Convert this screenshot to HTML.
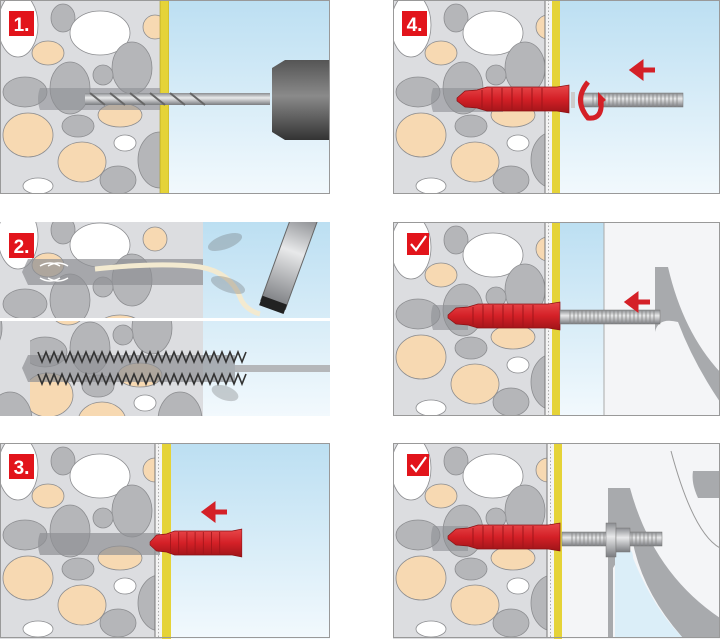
<!DOCTYPE html>
<html><head><meta charset="utf-8"><style>html,body{margin:0;padding:0;background:#fff;width:720px;height:639px;overflow:hidden}svg{display:block}</style></head><body>
<svg width="720" height="639" viewBox="0 0 720 639" xmlns="http://www.w3.org/2000/svg">
<defs>
<linearGradient id="sky" x1="0" y1="0" x2="0" y2="1"><stop offset="0" stop-color="#bcdff2"/><stop offset="1" stop-color="#f2f9fd"/></linearGradient>
<linearGradient id="metal" x1="0" y1="0" x2="0" y2="1"><stop offset="0" stop-color="#8a8c90"/><stop offset=".4" stop-color="#e8e9ea"/><stop offset="1" stop-color="#7a7c80"/></linearGradient>
<linearGradient id="red" x1="0" y1="0" x2="0" y2="1"><stop offset="0" stop-color="#e8484a"/><stop offset=".5" stop-color="#d42027"/><stop offset="1" stop-color="#9e1418"/></linearGradient>
<linearGradient id="chuck" x1="0" y1="0" x2="0" y2="1"><stop offset="0" stop-color="#555"/><stop offset=".45" stop-color="#8a8a8a"/><stop offset="1" stop-color="#333"/></linearGradient>
<g id="stones" stroke="#8c8d90" stroke-width="0.8">
<rect x="0" y="0" width="180" height="200" fill="#dcdde0" stroke="none"/>
<ellipse cx="18" cy="25" rx="20" ry="32" fill="#fff"/>
<ellipse cx="63" cy="18" rx="12" ry="14" fill="#b5b6b9"/>
<ellipse cx="100" cy="33" rx="30" ry="22" fill="#fff"/>
<ellipse cx="155" cy="27" rx="12" ry="12" fill="#f7d9b2"/>
<ellipse cx="48" cy="53" rx="16" ry="12" fill="#f7d9b2"/>
<ellipse cx="132" cy="68" rx="20" ry="26" fill="#b5b6b9"/>
<ellipse cx="70" cy="88" rx="20" ry="26" fill="#b5b6b9"/>
<ellipse cx="103" cy="75" rx="10" ry="10" fill="#b5b6b9"/>
<ellipse cx="25" cy="92" rx="22" ry="15" fill="#b5b6b9"/>
<ellipse cx="120" cy="115" rx="22" ry="12" fill="#f7d9b2"/>
<ellipse cx="28" cy="135" rx="25" ry="22" fill="#f7d9b2"/>
<ellipse cx="78" cy="126" rx="16" ry="11" fill="#b5b6b9"/>
<ellipse cx="125" cy="143" rx="11" ry="8" fill="#fff"/>
<ellipse cx="82" cy="162" rx="24" ry="20" fill="#f7d9b2"/>
<ellipse cx="160" cy="160" rx="22" ry="28" fill="#b5b6b9"/>
<ellipse cx="38" cy="186" rx="15" ry="8" fill="#fff"/>
<ellipse cx="118" cy="180" rx="18" ry="14" fill="#b5b6b9"/>
</g>
<g id="dowel">
<path d="M0 13 L8 6 L20 5 L30 2 L100 2 L112 0 L112 28 L100 26 L30 26 L20 23 L8 22 L0 16Z" fill="url(#red)" stroke="#8a1014" stroke-width=".7"/>
<g stroke="#a0151a" stroke-width="1"><line x1="25" y1="5" x2="25" y2="23"/><line x1="35" y1="3" x2="35" y2="25"/><line x1="45" y1="3" x2="45" y2="25"/><line x1="55" y1="3" x2="55" y2="25"/><line x1="65" y1="3" x2="65" y2="25"/><line x1="75" y1="3" x2="75" y2="25"/><line x1="85" y1="3" x2="85" y2="25"/></g>
</g>
<g id="screw">
<rect x="0" y="0" width="100" height="14" fill="url(#metal)" stroke="#777" stroke-width=".5"/>
<path d="M10 0v14M14 0v14M18 0v14M22 0v14M26 0v14M30 0v14M34 0v14M38 0v14M42 0v14M46 0v14M50 0v14M54 0v14M58 0v14M62 0v14M66 0v14M70 0v14M74 0v14M78 0v14M82 0v14M86 0v14M90 0v14M94 0v14" stroke="#888" stroke-width=".8"/>
</g>
<g id="check"><rect width="22" height="22" fill="#e2141b"/><path d="M4 11 L9 17 L19 3" fill="none" stroke="#fff" stroke-width="2.2"/></g>
<g id="plaster"><rect width="7" height="195" fill="#f4f4f4"/><line x1="3.5" y1="0" x2="3.5" y2="195" stroke="#999" stroke-dasharray="1.5 2" stroke-width=".8"/><line x1="0" y1="0" x2="0" y2="195" stroke="#777"/></g>
</defs>

<!-- Panel 1 -->
<svg x="0" y="0" width="330" height="194">
<use href="#stones" x="0" y="0"/>
<rect x="160" y="0" width="9" height="194" fill="#e5d338" stroke="#a99a20" stroke-width=".6"/>
<rect x="169" y="0" width="161" height="194" fill="url(#sky)"/>
<path d="M40 88 H160 V110 H40 Q36 99 40 88Z" fill="#8e9094" opacity=".6"/>
<rect x="85" y="93" width="185" height="12" fill="url(#metal)"/>
<path d="M90 93 l15 12 M110 93 l15 12 M130 93 l15 12 M150 93 l15 12 M170 93 l15 12 M190 93 l15 12" stroke="#666" stroke-width="2"/>
<path d="M272 68 L285 60 H330 V140 H285 L272 132Z" fill="url(#chuck)"/>
<rect x="0.5" y="0.5" width="329" height="193" fill="none" stroke="#999"/>
<rect x="9" y="11" width="25" height="25" fill="#e2141b"/><text x="21.5" y="31" font-family="Liberation Sans,sans-serif" font-weight="bold" font-size="19" fill="#fff" text-anchor="middle">1.</text>
</svg>

<!-- Panel 4 -->
<svg x="393" y="0" width="327" height="194">
<use href="#stones" x="0" y="0"/>
<use href="#plaster" x="152" y="0"/>
<rect x="159" y="0" width="8" height="194" fill="#e5d338"/>
<rect x="167" y="0" width="160" height="194" fill="url(#sky)"/>
<path d="M40 88 H110 V112 H40 Q36 100 40 88Z" fill="#8e9094" opacity=".6"/>
<use href="#dowel" x="64" y="85"/>
<rect x="178" y="92" width="4" height="16" fill="#ccc"/>
<use href="#screw" x="190" y="93"/>
<path d="M195 82 Q180 100 195 118 Q210 120 208 100" fill="none" stroke="#d42027" stroke-width="5"/>
<path d="M205 92 l8 8 l-8 6z" fill="#d42027"/>
<path d="M240 70 h22 M240 70 l8 -6 v12z" stroke="#d42027" stroke-width="5" fill="#d42027"/>
<rect x="0.5" y="0.5" width="326" height="193" fill="none" stroke="#999"/>
<rect x="9" y="11" width="25" height="25" fill="#e2141b"/><text x="21.5" y="31" font-family="Liberation Sans,sans-serif" font-weight="bold" font-size="19" fill="#fff" text-anchor="middle">4.</text>
</svg>

<!-- Panel 2 -->
<svg x="0" y="222" width="330" height="194">
<rect x="0" y="0" width="205" height="194" fill="#dcdde0"/>
<use href="#stones" x="0" y="-10"/>
<svg x="0" y="98" width="330" height="96"><use href="#stones" x="20" y="-60"/><use href="#stones" x="-150" y="-60"/></svg>
<rect x="203" y="0" width="127" height="194" fill="url(#sky)"/>
<rect x="0" y="96" width="330" height="3" fill="#fff"/>
<path d="M28 37 H203 V63 H28 L22 50Z" fill="#8e9094" opacity=".7"/>
<path d="M95 47 Q160 40 200 45 Q230 50 240 75 Q245 88 260 92" fill="none" stroke="#f3ead0" stroke-width="5"/>
<path d="M40 44 q10 -6 20 0 M40 56 q10 6 20 0 M48 44 q10 -6 20 0 M48 56 q10 6 20 0" fill="none" stroke="#fff" stroke-width="1.5"/>
<g transform="rotate(20 285 50)"><rect x="272" y="-10" width="26" height="95" fill="url(#metal)" stroke="#666"/><rect x="272" y="80" width="26" height="10" fill="#222"/></g>
<g fill="#666" opacity=".3"><ellipse cx="225" cy="20" rx="18" ry="7" transform="rotate(-20 225 20)"/><ellipse cx="228" cy="63" rx="18" ry="7" transform="rotate(20 228 63)"/><ellipse cx="225" cy="171" rx="14" ry="7" transform="rotate(20 225 171)"/></g>
<rect x="235" y="143" width="95" height="7" fill="#b5b7ba"/>
<path d="M28 133 H235 V160 H28 L22 146Z" fill="#8e9094" opacity=".7"/>
<g stroke="#333" stroke-width="1.6"><path d="M38 130 l4 10 l4 -10 l4 10 l4 -10 l4 10 l4 -10 l4 10 l4 -10 l4 10 l4 -10 l4 10 l4 -10 l4 10 l4 -10 l4 10 l4 -10 l4 10 l4 -10 l4 10 l4 -10 l4 10 l4 -10 l4 10 l4 -10 l4 10 l4 -10 l4 10 l4 -10 l4 10 l4 -10 l4 10 l4 -10 l4 10 l4 -10 l4 10 l4 -10 l4 10 l4 -10 l4 10 l4 -10 l4 10 l4 -10 l4 10 l4 -10 l4 10 l4 -10 l4 10 l4 -10 l4 10 l4 -10 l4 10 l4 -10" fill="none"/><path d="M38 152 l4 10 l4 -10 l4 10 l4 -10 l4 10 l4 -10 l4 10 l4 -10 l4 10 l4 -10 l4 10 l4 -10 l4 10 l4 -10 l4 10 l4 -10 l4 10 l4 -10 l4 10 l4 -10 l4 10 l4 -10 l4 10 l4 -10 l4 10 l4 -10 l4 10 l4 -10 l4 10 l4 -10 l4 10 l4 -10 l4 10 l4 -10 l4 10 l4 -10 l4 10 l4 -10 l4 10 l4 -10 l4 10 l4 -10 l4 10 l4 -10 l4 10 l4 -10 l4 10 l4 -10 l4 10 l4 -10 l4 10 l4 -10" fill="none"/></g>
<rect x="9" y="11" width="25" height="25" fill="#e2141b"/><text x="21.5" y="31" font-family="Liberation Sans,sans-serif" font-weight="bold" font-size="19" fill="#fff" text-anchor="middle">2.</text>
</svg>

<!-- Panel 5 -->
<svg x="393" y="222" width="327" height="194">
<use href="#stones" x="0" y="0"/>
<use href="#plaster" x="152" y="0"/>
<rect x="159" y="0" width="8" height="194" fill="#e5d338"/>
<rect x="167" y="0" width="44" height="194" fill="url(#sky)"/>
<rect x="211" y="0" width="116" height="194" fill="#f4f5f7" stroke="#aaa"/>
<path d="M257 45 H275 Q290 110 327 150 V180 Q300 140 285 100 Q265 95 262 110 V45Z" fill="#a8aaad"/>
<path d="M40 83 H75 V108 H40 Q36 95 40 83Z" fill="#8e9094" opacity=".6"/>
<use href="#dowel" x="55" y="80"/>
<use href="#screw" x="167" y="88"/>
<path d="M235 80 h22 M235 80 l8 -6 v12z" stroke="#d42027" stroke-width="5" fill="#d42027"/>
<rect x="0.5" y="0.5" width="326" height="193" fill="none" stroke="#999"/>
<use href="#check" x="14" y="11"/>
</svg>

<!-- Panel 3 -->
<svg x="0" y="443" width="330" height="196">
<use href="#stones" x="0" y="0"/>
<use href="#plaster" x="155" y="0"/>
<rect x="162" y="0" width="9" height="196" fill="#e5d338"/>
<rect x="171" y="0" width="159" height="196" fill="url(#sky)"/>
<path d="M40 90 H160 V112 H40 Q36 101 40 90Z" fill="#8e9094" opacity=".7"/>
<g transform="translate(150 86) scale(0.82 1)"><use href="#dowel"/></g>
<path d="M205 69 h22 M205 69 l8 -6 v12z" stroke="#d42027" stroke-width="5" fill="#d42027"/>
<rect x="0.5" y="0.5" width="329" height="194" fill="none" stroke="#999"/>
<rect x="9" y="11" width="25" height="25" fill="#e2141b"/><text x="21.5" y="31" font-family="Liberation Sans,sans-serif" font-weight="bold" font-size="19" fill="#fff" text-anchor="middle">3.</text>
</svg>

<!-- Panel 6 -->
<svg x="393" y="443" width="327" height="196">
<use href="#stones" x="0" y="0"/>
<use href="#plaster" x="154" y="0"/>
<rect x="161" y="0" width="8" height="196" fill="#e5d338"/>
<rect x="169" y="0" width="158" height="196" fill="#f4f5f7"/>
<path d="M215 45 H237 Q260 130 327 175 V195 H290 Q250 150 240 100 Q232 105 220 125 V195 H215Z" fill="#a8aaad"/>
<path d="M222 110 Q240 100 240 115 Q260 165 290 195 H222Z" fill="#dbeef8"/>
<path d="M278 8 Q300 90 327 105" fill="none" stroke="#999"/>
<path d="M300 28 H327 V55 H305 Q298 40 300 28Z" fill="#a8aaad"/>
<path d="M40 83 H75 V108 H40 Q36 95 40 83Z" fill="#8e9094" opacity=".6"/>
<use href="#dowel" x="55" y="80"/>
<use href="#screw" x="169" y="89"/>
<rect x="213" y="80" width="10" height="34" fill="url(#metal)" stroke="#777" stroke-width=".5"/>
<rect x="223" y="85" width="14" height="24" fill="url(#metal)" stroke="#777" stroke-width=".5"/>
<rect x="0.5" y="0.5" width="326" height="194" fill="none" stroke="#999"/>
<use href="#check" x="14" y="11"/>
</svg>
</svg>
</body></html>
